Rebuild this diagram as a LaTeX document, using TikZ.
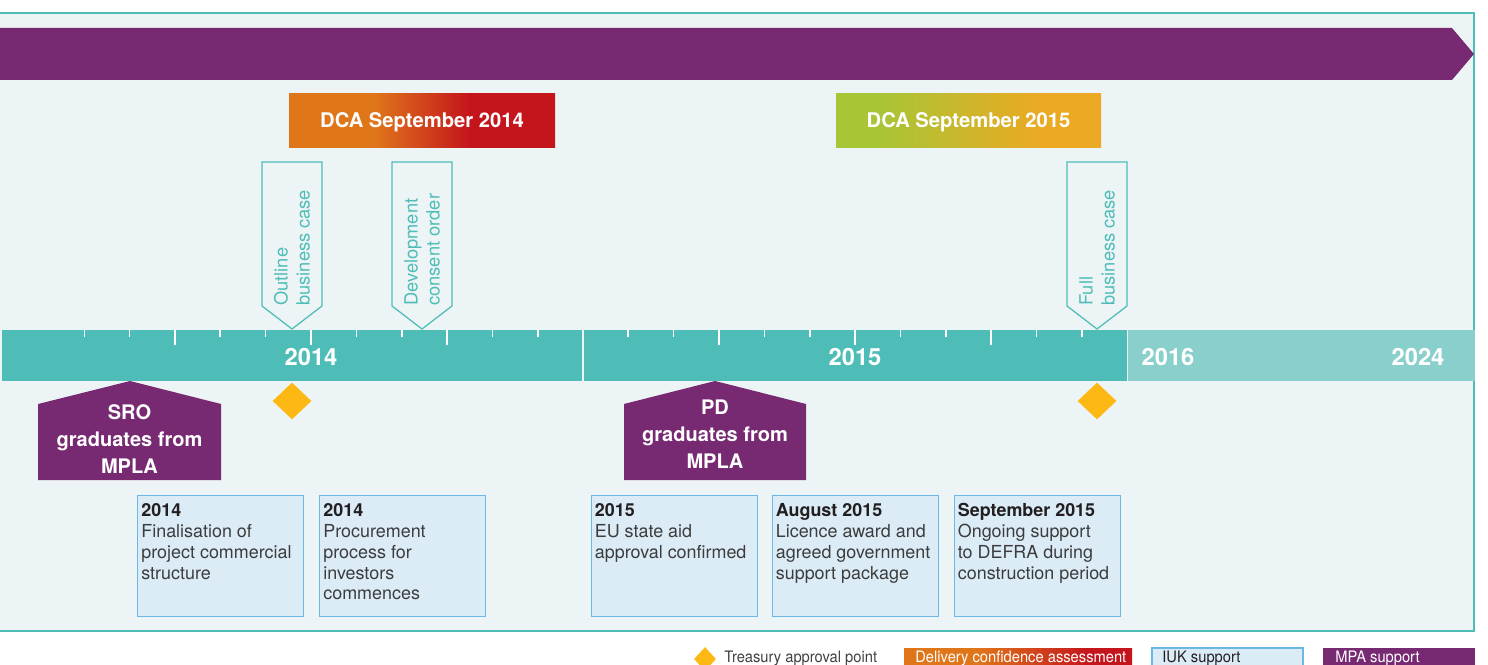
\documentclass[tikz,border=0pt]{standalone}
\usepackage{fontspec}
\setmainfont{TeX Gyre Heros}
\newfontfamily\legendfont[FakeStretch=0.93]{TeX Gyre Heros}
\usetikzlibrary{shapes.geometric}

\definecolor{panelbg}{HTML}{ECF4F5}
\definecolor{teal}{HTML}{4EBDB7}
\definecolor{tealpale}{HTML}{89CFCB}
\definecolor{mpapurple}{HTML}{772A72}
\definecolor{dcaorange}{HTML}{DF761A}
\definecolor{dcared}{HTML}{C4141C}
\definecolor{dcagreen}{HTML}{A8C536}
\definecolor{dcagold}{HTML}{ECA923}
\definecolor{treasury}{HTML}{FDB813}
\definecolor{iukfill}{HTML}{DBECF7}
\definecolor{iukline}{HTML}{6BB7E6}
\definecolor{titledark}{HTML}{231F20}
\definecolor{bodygrey}{HTML}{3C3C3C}

\pgfdeclarehorizontalshading{dcaearly}{100bp}{color(0bp)=(dcaorange); color(41bp)=(dcaorange); color(59bp)=(dcared); color(100bp)=(dcared)}
\pgfdeclarehorizontalshading{dcalate}{100bp}{color(0bp)=(dcagreen); color(33bp)=(dcagreen); color(64bp)=(dcagold); color(100bp)=(dcagold)}
\pgfdeclarehorizontalshading{dcakey}{100bp}{color(0bp)=(dcaorange); color(41bp)=(dcaorange); color(66bp)=(dcared); color(100bp)=(dcared)}

\begin{document}
\begin{tikzpicture}[
		x=0.2mm, y=-0.2mm,
		year/.style={text=white, inner sep=0, font=\bfseries\fontsize{13.5}{16}\selectfont},
		dca/.style={text=white, inner sep=0, font=\bfseries\fontsize{11.5}{14}\selectfont},
		callout/.style={draw=teal, fill=panelbg, line width=0.25mm},
		callout_text/.style={rotate=90, anchor=west, align=left, inner sep=0, text=teal, font=\fontsize{10.4}{12.5}\selectfont},
		graduate/.style={text=white, align=center, inner sep=0, font=\bfseries\fontsize{11.4}{15.3}\selectfont},
		tick/.style={draw=white, line width=0.22mm},
		treasury_point/.style={diamond, fill=treasury, inner sep=0, minimum width=7.8mm, minimum height=7.4mm},
		infobox/.style={draw=iukline, fill=iukfill, line width=0.25mm, anchor=north west, inner sep=0, minimum width=33.2mm, minimum height=24.2mm},
		box_text/.style={anchor=north west, align=left, inner sep=0, text=bodygrey, font=\fontsize{10.2}{11.9}\selectfont},
		legend/.style={anchor=west, inner sep=0, font=\legendfont\fontsize{9}{11}\selectfont}
	]
  \useasboundingbox (0,0) rectangle (1488,665);
  \fill[white] (0,0) rectangle (1488,665);
  \fill[panelbg] (0,13) rectangle (1474,631);
  \draw[teal, line width=0.3mm] (0,13) -- (1474,13) -- (1474,631) -- (0,631);

  \fill[mpapurple] (0,28) -- (1452,28) -- (1474,54) -- (1452,80) -- (0,80) -- cycle;

  \shade[shading=dcaearly] (289,94) rectangle (555,148);
  \node (dca_2014) [dca] at (422,122.5) {DCA September 2014};
  \shade[shading=dcalate] (836,94) rectangle (1101,148);
  \node (dca_2015) [dca] at (968.5,122.5) {DCA September 2015};

  \draw[callout] (262,162) -- (322,162) -- (322,306) -- (292,329) -- (262,306) -- cycle;
  \node (obc_label) [callout_text] at (292,306) {Outline\\business case};
  \draw[callout] (392,162) -- (452,162) -- (452,306) -- (422,329) -- (392,306) -- cycle;
  \node (dco_label) [callout_text] at (422,306) {Development\\consent order};
  \draw[callout] (1067,162) -- (1127,162) -- (1127,306) -- (1097,329) -- (1067,306) -- cycle;
  \node (fbc_label) [callout_text] at (1097,306) {Full\\business case};

  \fill[teal] (2,330) rectangle (582,381);
  \fill[teal] (583.5,330) rectangle (1126.5,381);
  \fill[tealpale] (1127.5,330) rectangle (1475,381);
  \foreach \t in {84.2, 129.5, 220, 265.5, 356.5, 402, 492.5, 538, 628, 673.5, 764.5, 810, 900.5, 946, 1036.5, 1082}
    \draw[tick] (\t,330) -- (\t,337);
  \foreach \t in {175, 311, 447, 719, 855, 991}
    \draw[tick] (\t,330) -- (\t,345);
  \node (year_2014) [year] at (311,357) {2014};
  \node (year_2015) [year] at (855,357) {2015};
  \node (year_2016) [year] at (1168,357) {2016};
  \node (year_2024) [year] at (1418,357) {2024};

  \node (tap_1) [treasury_point] at (292,401) {};
  \node (tap_2) [treasury_point] at (1097,401) {};

  \fill[mpapurple] (38,404) -- (130,381) -- (221,404) -- (221,480) -- (38,480) -- cycle;
  \node (sro_label) [graduate] at (129.5,439) {SRO\\graduates from\\MPLA};
  \fill[mpapurple] (624,404) -- (715,381) -- (806,404) -- (806,480) -- (624,480) -- cycle;
  \node (pd_label) [graduate] at (715,434) {PD\\graduates from\\MPLA};

  \node (box_1) [infobox] at (137,495) {};
  \node (box_1_text) [box_text] at ([shift={(4,8)}]box_1.north west) {\textcolor{titledark}{\textbf{2014}}\\Finalisation of\\project commercial\\structure};
  \node (box_2) [infobox] at (319,495) {};
  \node (box_2_text) [box_text] at ([shift={(4,8)}]box_2.north west) {\textcolor{titledark}{\textbf{2014}}\\Procurement\\process for\\investors\\commences};
  \node (box_3) [infobox] at (590.5,495) {};
  \node (box_3_text) [box_text] at ([shift={(4,8)}]box_3.north west) {\textcolor{titledark}{\textbf{2015}}\\EU state aid\\approval confirmed};
  \node (box_4) [infobox] at (771.5,495) {};
  \node (box_4_text) [box_text] at ([shift={(4,8)}]box_4.north west) {\textcolor{titledark}{\textbf{August 2015}}\\Licence award and\\agreed government\\support package};
  \node (box_5) [infobox] at (953.5,495) {};
  \node (box_5_text) [box_text] at ([shift={(4,8)}]box_5.north west) {\textcolor{titledark}{\textbf{September 2015}}\\Ongoing support\\to DEFRA during\\construction period};

  \node (key_tap) [treasury_point, minimum width=4.4mm, minimum height=4.8mm] at (705,659) {};
  \node (key_tap_text) [legend, text=titledark!85] at (724,658.5) {Treasury approval point};
  \shade[shading=dcakey] (904,648) rectangle (1132,672);
  \node (key_dca_text) [legend, text=white] at (915,658.5) {Delivery confidence assessment};
  \draw[iukline, fill=iukfill, line width=0.25mm] (1152,648) rectangle (1303,672);
  \node (key_iuk_text) [legend, text=titledark] at (1162,658.5) {IUK support};
  \fill[mpapurple] (1323,648) rectangle (1475,672);
  \node (key_mpa_text) [legend, text=white] at (1335,658.5) {MPA support};
\end{tikzpicture}
\end{document}
